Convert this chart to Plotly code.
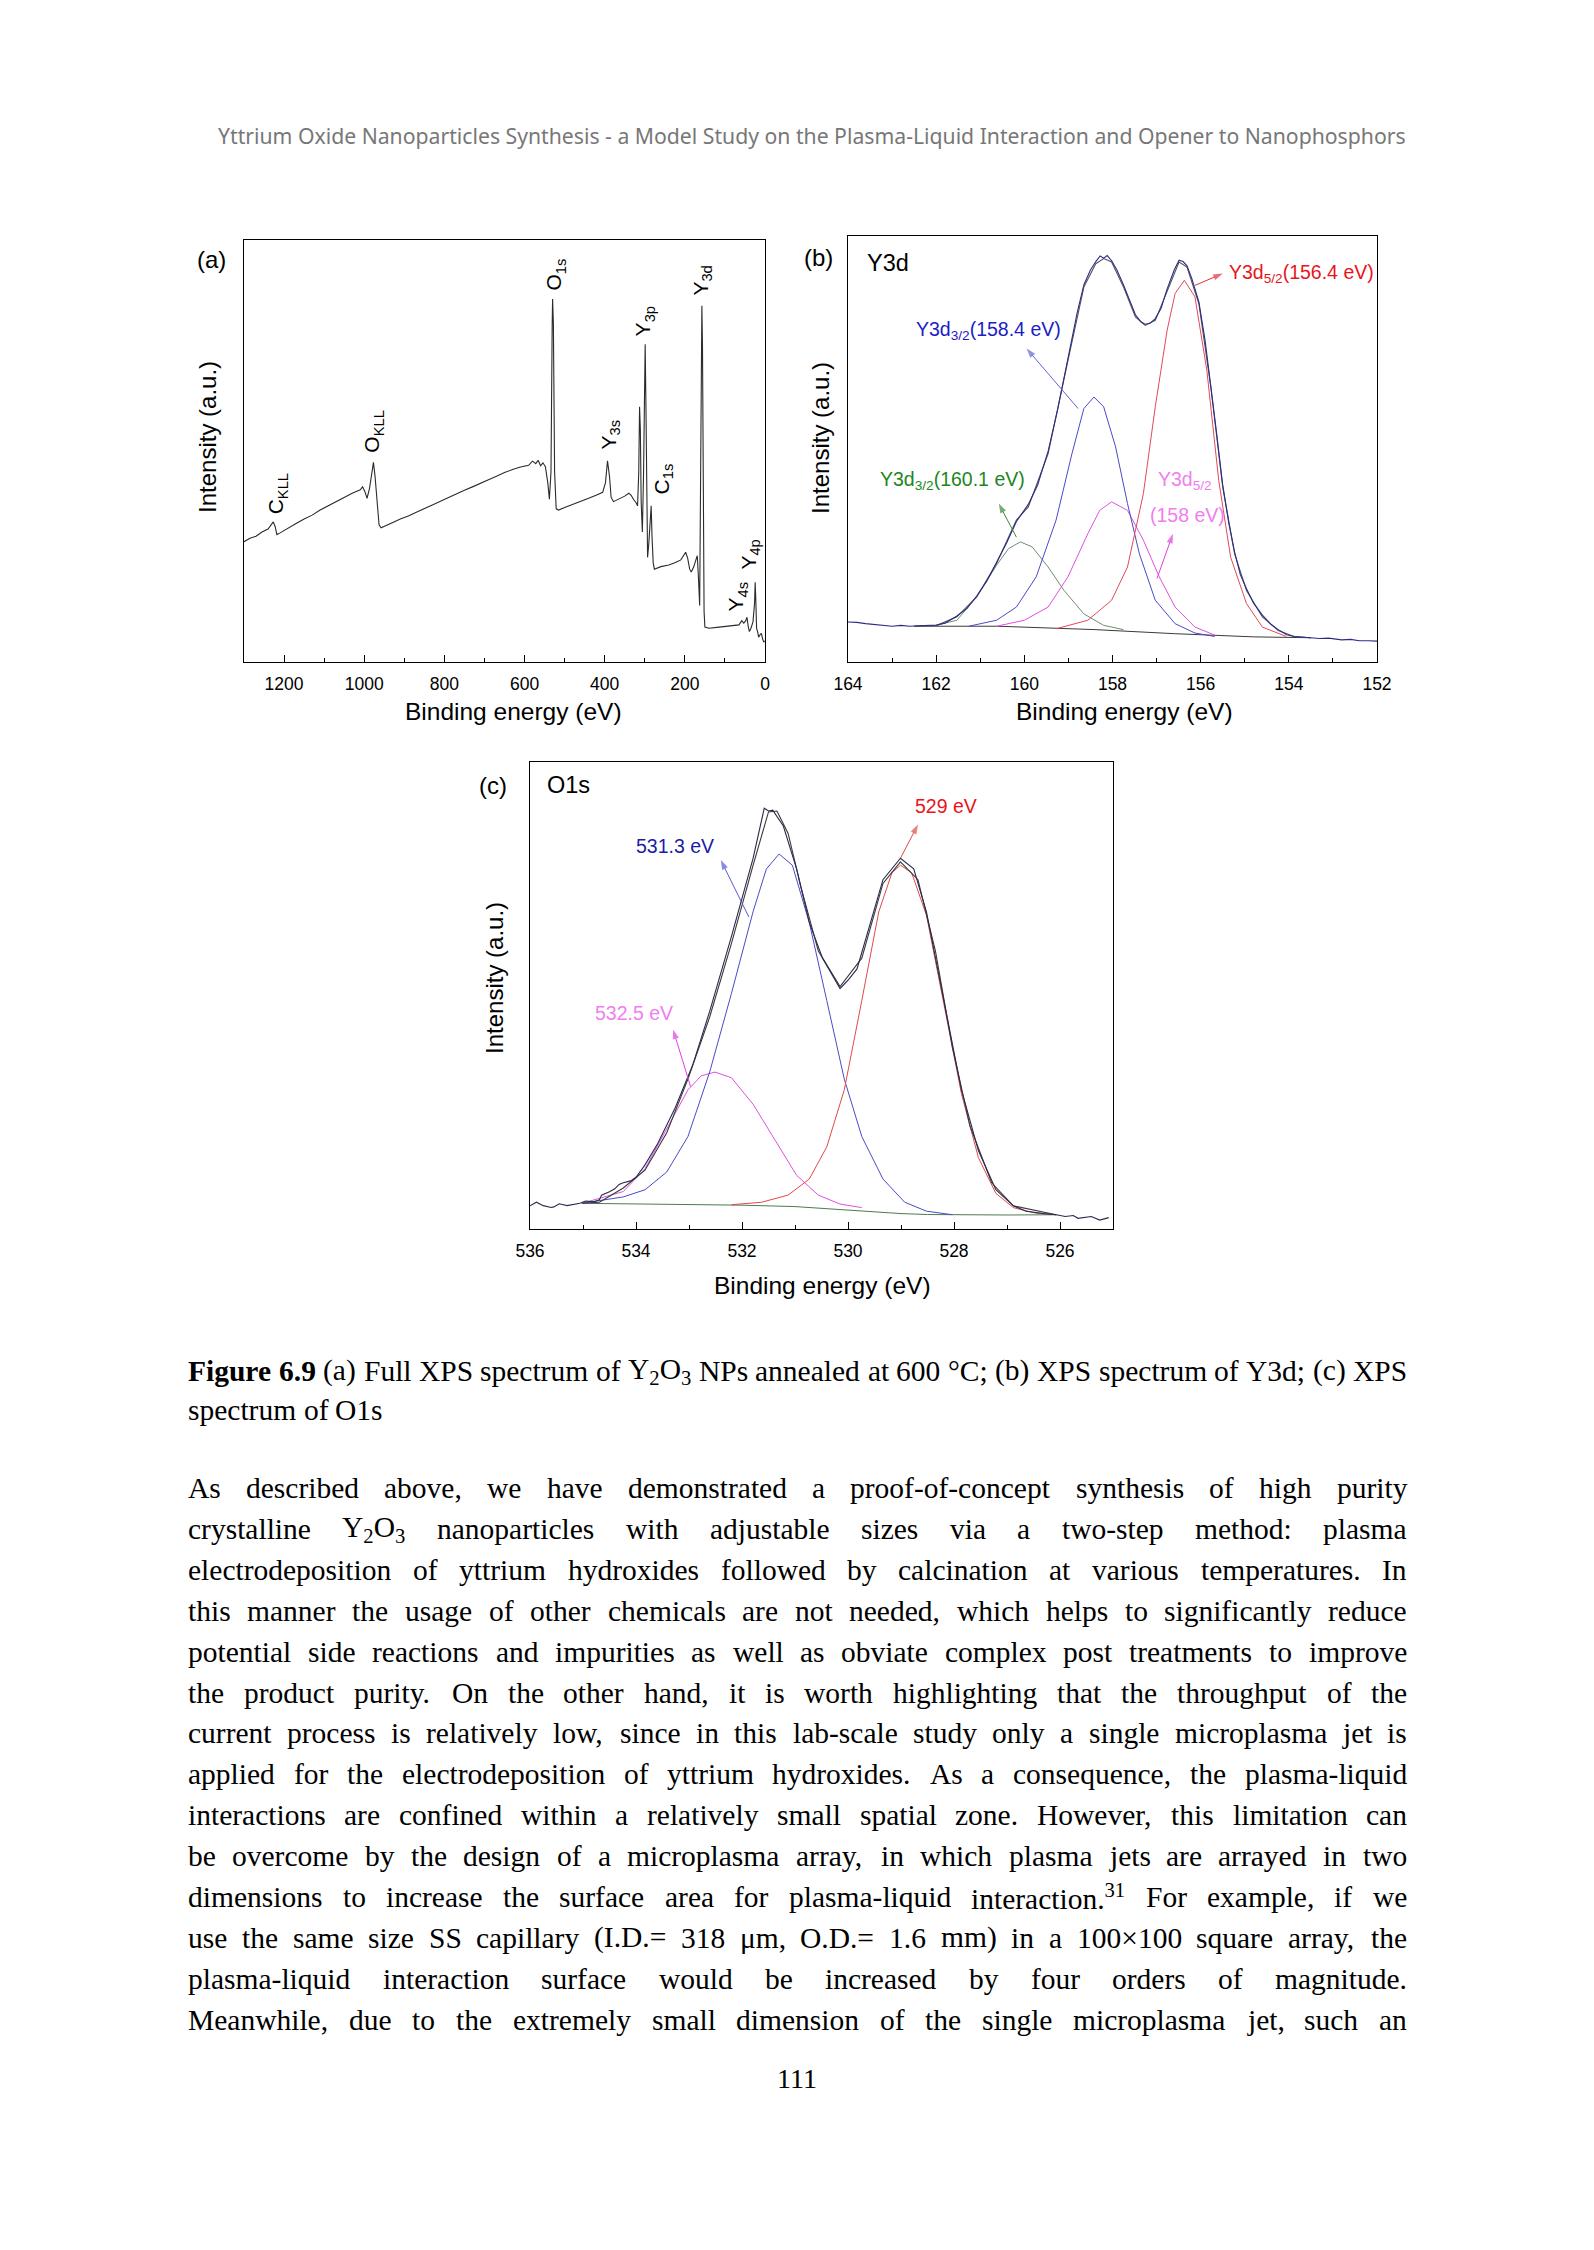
import plotly.graph_objects as go

W, H = 1594, 2250

# ---------------- data: panel (a) survey spectrum ----------------
a_be = [1300, 1285, 1270, 1255, 1240, 1232, 1227, 1222, 1218, 1210, 1190, 1170, 1150, 1130, 1110, 1090,
        1070, 1050, 1030, 1010, 1004, 998, 993, 987, 981, 977, 973, 968, 963, 958, 950, 930, 910, 890,
        870, 850, 830, 810, 790, 770, 750, 730, 710, 690, 670, 650, 630, 610, 590, 580, 572, 566, 560,
        554, 548, 542, 538, 534, 531, 530, 528, 525, 521, 515, 500, 480, 460, 440, 420, 405, 398, 393,
        388, 384, 378, 365, 350, 340, 334, 328, 322, 318, 315, 313, 311, 309, 306, 303, 300, 299, 297,
        295, 293, 290, 286, 284, 282, 279, 276, 260, 240, 225, 210, 203, 198, 193, 188, 184, 178, 172,
        169, 166, 163, 161, 159, 157.5, 156, 154, 152, 150, 140, 120, 100, 80, 65, 58, 53, 48, 45, 42,
        39, 35, 30, 26, 24.5, 23, 21, 18, 16, 12, 9, 6, 3, 1]
a_int = [28.5, 29.3, 29.8, 30.8, 31.5, 32.6, 33.2, 32.0, 30.2, 30.6, 31.6, 32.8, 33.9, 34.8, 36.0, 37.0,
         38.2, 39.0, 40.0, 40.8, 41.5, 40.3, 38.8, 41.0, 45.5, 47.3, 44.0, 37.0, 32.5, 31.8, 32.2, 33.0,
         33.9, 34.6, 35.5, 36.3, 37.2, 38.1, 39.0, 39.8, 40.7, 41.5, 42.4, 43.2, 44.0, 44.9, 45.6, 46.2,
         46.6, 47.6, 47.0, 47.8, 46.5, 47.2, 46.3, 42.5, 38.6, 45.0, 80.0, 86.0, 80.0, 45.0, 36.3, 36.0,
         36.6, 37.3, 38.1, 38.8, 39.6, 40.2, 42.5, 47.7, 44.0, 39.0, 38.0, 38.6, 39.3, 40.0, 39.5, 38.5,
         37.8, 37.0, 45.0, 60.5, 55.0, 38.0, 30.8, 45.0, 70.0, 75.3, 60.0, 35.0, 24.8, 28.0, 35.0, 37.0,
         30.0, 23.5, 22.0, 22.6, 23.0, 23.5, 24.2, 25.2, 26.0, 24.6, 22.0, 21.3, 22.5, 24.3, 25.2, 20.0,
         13.4, 40.0, 75.0, 84.4, 75.0, 40.0, 12.0, 8.3, 8.0, 8.2, 8.4, 8.6, 8.8, 9.8, 9.2, 9.8, 10.6, 8.5,
         7.2, 8.0, 9.5, 14.0, 18.9, 15.0, 8.0, 7.0, 5.9, 6.5, 6.8, 5.5, 4.7, 5.0]
a_labels = ["C<sub>KLL</sub>", "O<sub>KLL</sub>", "O<sub>1s</sub>", "Y<sub>3s</sub>", "Y<sub>3p</sub>",
            "C<sub>1s</sub>", "Y<sub>3d</sub>", "Y<sub>4s</sub>", "Y<sub>4p</sub>"]
a_label_be = [1217, 978, 523, 388, 301, 255.5, 158, 69, 38]
a_label_int = [39.8, 54.6, 91.9, 53.8, 80.8, 43.4, 90.3, 15.6, 25.4]

# ---------------- data: panel (b) Y3d ----------------
b_raw_be = [164.0, 163.8, 163.6, 163.4, 163.2, 163.0, 162.8, 162.6, 162.4, 162.2, 162.0, 161.8, 161.53,
            161.3, 161.08, 160.85, 160.63, 160.4, 160.18, 159.91, 159.7, 159.46, 159.25, 159.01, 158.8,
            158.65, 158.5, 158.38, 158.28, 158.2, 158.12, 158.02, 157.9, 157.75, 157.6, 157.48, 157.35,
            157.26, 157.15, 157.03, 156.9, 156.76, 156.6, 156.49, 156.4, 156.31, 156.2, 156.04, 155.9,
            155.77, 155.63, 155.5, 155.36, 155.23, 155.1, 154.96, 154.8, 154.6, 154.4, 154.24, 154.05,
            153.88, 153.7, 153.5, 153.3, 153.1, 152.98, 152.8, 152.6, 152.4, 152.2, 152.0]
b_raw_int = [9.4, 9.3, 9.0, 8.8, 8.5, 8.4, 8.6, 8.4, 8.5, 8.6, 8.7, 9.1, 10.8, 12.6, 15.5, 19.0, 23.4,
             28.0, 33.0, 37.0, 41.5, 49.5, 59.0, 71.5, 82.0, 88.5, 92.0, 94.0, 95.3, 94.8, 95.4, 94.2,
             92.0, 88.5, 84.5, 81.5, 79.8, 79.3, 79.5, 80.6, 83.0, 87.6, 92.0, 94.3, 94.0, 93.0, 90.0,
             84.5, 75.5, 65.0, 53.0, 41.5, 32.5, 25.8, 20.5, 17.2, 13.8, 11.0, 8.8, 7.6, 6.4, 6.0, 5.8,
             5.7, 5.5, 5.6, 5.4, 5.2, 5.3, 5.0, 5.0, 4.9]
b_env_be = [162.5, 161.98, 161.53, 161.08, 160.63, 160.18, 159.91, 159.46, 159.01, 158.65, 158.38, 158.2,
            158.02, 157.75, 157.48, 157.26, 157.03, 156.76, 156.49, 156.31, 156.04, 155.77, 155.5,
            155.23, 154.96, 154.6, 154.24, 153.88, 153.5]
b_env_int = [8.4, 8.6, 10.6, 15.3, 23.1, 33.3, 36.4, 48.9, 70.8, 88.0, 93.5, 94.7, 93.9, 88.0, 81.0,
             79.0, 80.2, 87.2, 93.9, 92.7, 84.1, 64.6, 41.1, 25.4, 16.8, 10.6, 7.4, 6.0, 5.7]
b_bg_be = [162.5, 160.6, 158.4, 156.6, 154.8, 153.5]
b_bg_int = [8.4, 8.4, 7.6, 6.65, 5.9, 5.7]
b_green_be = [161.98, 161.53, 161.08, 160.63, 160.36, 160.09, 159.82, 159.46, 159.10, 158.65, 158.20, 157.75]
b_green_int = [8.7, 9.8, 15.3, 22.7, 26.6, 28.2, 27.0, 22.3, 16.8, 11.3, 8.6, 7.6]
b_blue_be = [161.26, 160.63, 160.18, 159.73, 159.28, 158.92, 158.65, 158.42, 158.20, 157.93, 157.66,
             157.39, 157.03, 156.58, 156.13, 155.68]
b_blue_int = [8.4, 9.8, 12.9, 20.0, 33.3, 48.9, 59.5, 62.2, 59.9, 50.5, 37.2, 25.4, 14.5, 9.0, 6.8, 6.0]
b_mag_be = [160.63, 160.00, 159.46, 159.01, 158.56, 158.29, 158.02, 157.66, 157.30, 156.94, 156.58,
            156.13, 155.68]
b_mag_int = [8.4, 9.8, 12.9, 20.0, 30.1, 35.6, 37.6, 35.6, 28.6, 20.0, 12.9, 8.2, 6.3]
b_red_be = [159.28, 158.56, 158.02, 157.66, 157.30, 157.03, 156.76, 156.58, 156.37, 156.13, 155.86,
            155.59, 155.32, 154.96, 154.60, 154.06]
b_red_int = [7.8, 9.8, 14.5, 22.3, 39.5, 59.9, 77.9, 86.5, 89.6, 85.7, 68.5, 42.6, 24.6, 13.7, 8.2, 6.0]

# ---------------- data: panel (c) O1s ----------------
c_raw_be = [536.0, 535.88, 535.75, 535.6, 535.55, 535.45, 535.3, 535.15, 535.06, 534.95, 534.8, 534.69,
            534.65, 534.5, 534.4, 534.32, 534.24, 534.1, 534.0, 533.83, 533.59, 533.26, 532.93, 532.61,
            532.2, 531.79, 531.58, 531.5, 531.42, 531.22, 530.97, 530.73, 530.48, 530.15, 529.99, 529.83,
            529.58, 529.34, 529.01, 528.76, 528.52, 528.19, 527.86, 527.54, 527.21, 526.88, 526.64,
            526.3, 526.07, 525.9, 525.75, 525.66, 525.5, 525.41, 525.25, 525.08]
c_raw_int = [4.96, 5.73, 5.0, 4.6, 4.73, 5.4, 5.0, 5.3, 5.5, 6.0, 5.8, 6.26, 7.25, 8.0, 8.6, 9.54, 9.92,
             10.3, 11.07, 13.74, 18.3, 25.95, 35.1, 46.6, 62.6, 79.4, 90.1, 89.5, 89.7, 86.3, 77.1, 65.6,
             58.0, 51.5, 53.4, 55.7, 65.6, 74.8, 79.4, 77.1, 67.9, 48.9, 29.8, 16.8, 8.4, 4.96, 3.8, 3.3,
             3.05, 2.67, 2.9, 2.29, 2.6, 2.67, 1.9, 2.44]
c_env_be = [535.02, 534.69, 534.24, 533.83, 533.42, 533.02, 532.61, 532.2, 531.79, 531.5, 531.34, 531.13,
            530.89, 530.56, 530.15, 529.74, 529.34, 529.01, 528.68, 528.35, 528.03, 527.7, 527.29,
            526.88, 526.07]
c_env_int = [5.5, 5.73, 8.78, 12.6, 20.6, 32.1, 45.4, 61.1, 77.9, 89.3, 89.5, 84.7, 73.3, 59.5, 51.9,
             58.0, 74.0, 78.6, 74.8, 59.5, 38.9, 22.1, 9.9, 4.96, 3.05]
c_bg_be = [535.02, 534.0, 533.0, 532.0, 531.0, 530.5, 530.0, 529.5, 529.0, 528.5, 528.0, 527.0, 526.07]
c_bg_int = [5.5, 5.4, 5.3, 5.1, 4.8, 4.4, 4.0, 3.6, 3.3, 3.1, 3.05, 3.0, 3.05]
c_blue_be = [535.02, 534.24, 533.83, 533.42, 533.02, 532.61, 532.2, 531.79, 531.54, 531.3, 531.05,
             530.73, 530.4, 530.07, 529.74, 529.34, 528.93, 528.52, 528.03]
c_blue_int = [5.5, 6.87, 8.4, 12.2, 19.8, 33.6, 50.4, 68.0, 77.1, 80.3, 77.9, 65.6, 48.9, 32.1, 19.8,
              10.7, 5.73, 3.82, 3.05]
c_mag_be = [535.02, 534.24, 533.83, 533.42, 533.02, 532.77, 532.51, 532.2, 531.79, 531.38, 530.97,
            530.56, 530.15, 529.74]
c_mag_int = [5.5, 8.02, 12.9, 21.4, 29.8, 32.8, 33.6, 32.4, 26.7, 19.1, 11.5, 7.25, 5.34, 4.58]
c_red_be = [532.2, 531.63, 531.13, 530.73, 530.4, 530.07, 529.74, 529.42, 529.17, 529.01, 528.8, 528.52,
            528.19, 527.86, 527.54, 527.21, 526.88, 526.47, 526.07]
c_red_int = [5.2, 5.73, 7.25, 10.7, 17.6, 29.8, 48.9, 67.9, 76.3, 77.9, 76.3, 67.2, 48.1, 29.0, 15.3,
             7.63, 4.58, 3.44, 3.05]

# ---------------- text ----------------
header_text = ("Yttrium Oxide Nanoparticles Synthesis - a Model Study on the Plasma-Liquid "
               "Interaction and Opener to Nanophosphors")
caption_lines = [
    "<b>Figure</b> <b>6.9</b> (a) Full XPS spectrum of Y<sub>2</sub>O<sub>3</sub> NPs annealed at 600 °C; (b) XPS spectrum of Y3d; (c) XPS",
    "spectrum of O1s",
]
body_lines = [
    "As described above, we have demonstrated a proof-of-concept synthesis of high purity",
    "crystalline Y<sub>2</sub>O<sub>3</sub> nanoparticles with adjustable sizes via a two-step method: plasma",
    "electrodeposition of yttrium hydroxides followed by calcination at various temperatures. In",
    "this manner the usage of other chemicals are not needed, which helps to significantly reduce",
    "potential side reactions and impurities as well as obviate complex post treatments to improve",
    "the product purity. On the other hand, it is worth highlighting that the throughput of the",
    "current process is relatively low, since in this lab-scale study only a single microplasma jet is",
    "applied for the electrodeposition of yttrium hydroxides. As a consequence, the plasma-liquid",
    "interactions are confined within a relatively small spatial zone. However, this limitation can",
    "be overcome by the design of a microplasma array, in which plasma jets are arrayed in two",
    "dimensions to increase the surface area for plasma-liquid interaction.<sup>31</sup> For example, if we",
    "use the same size SS capillary (I.D.= 318 μm, O.D.= 1.6 mm) in a 100×100 square array, the",
    "plasma-liquid interaction surface would be increased by four orders of magnitude.",
    "Meanwhile, due to the extremely small dimension of the single microplasma jet, such an",
]
page_number = "111"

# ---------------- font metrics (Times / Liberation Serif, 1/1000 em) ----------------
TIMES = {' ': 250, '(': 333, ')': 333, ',': 250, '-': 333, '.': 250, '/': 278, ':': 278, ';': 278,
         '=': 564, '×': 564, 'μ': 500, '°': 400,
         'A': 722, 'B': 667, 'C': 667, 'D': 722, 'E': 611, 'F': 556, 'G': 722, 'H': 722, 'I': 333,
         'J': 389, 'K': 722, 'L': 611, 'M': 889, 'N': 722, 'O': 722, 'P': 556, 'Q': 722, 'R': 667,
         'S': 556, 'T': 611, 'U': 722, 'V': 722, 'W': 944, 'X': 722, 'Y': 722, 'Z': 611,
         'a': 444, 'b': 500, 'c': 444, 'd': 500, 'e': 444, 'f': 333, 'g': 500, 'h': 500, 'i': 278,
         'j': 278, 'k': 500, 'l': 278, 'm': 778, 'n': 500, 'o': 500, 'p': 500, 'q': 500, 'r': 333,
         's': 389, 't': 278, 'u': 500, 'v': 500, 'w': 722, 'x': 500, 'y': 500, 'z': 444}
TIMES_BOLD = {'F': 611, 'i': 278, 'g': 500, 'u': 556, 'r': 444, 'e': 444, '.': 250}


def text_width(s, fs):
    total, scale, bold, i = 0.0, 1.0, False, 0
    while i < len(s):
        if s.startswith('<sub>', i) or s.startswith('<sup>', i):
            scale = 0.7; i += 5; continue
        if s.startswith('</sub>', i) or s.startswith('</sup>', i):
            scale = 1.0; i += 6; continue
        if s.startswith('<b>', i):
            bold = True; i += 3; continue
        if s.startswith('</b>', i):
            bold = False; i += 4; continue
        ch = s[i]
        w = TIMES_BOLD.get(ch) if bold and ch in TIMES_BOLD else TIMES.get(ch, 500)
        total += w * scale
        i += 1
    return total * fs / 1000.0


def px(x):
    return x / W


def py(y):
    return 1 - y / H


fig = go.Figure()

AX = dict(showline=True, linecolor='black', linewidth=1.4, mirror=True, showgrid=False, zeroline=False,
          ticks='inside', ticklen=7, tickwidth=1.2, tickcolor='black', automargin=False,
          tickfont=dict(family='Liberation Sans, Arial', size=17.5, color='black'))
AY = dict(showline=True, linecolor='black', linewidth=1.4, mirror=True, showgrid=False, zeroline=False,
          ticks='', showticklabels=False, range=[0, 100], automargin=False)

fig.update_layout(
    template='none',
    width=W, height=H, margin=dict(l=0, r=0, t=0, b=0, pad=0, autoexpand=False), showlegend=False,
    paper_bgcolor='white', plot_bgcolor='white',
    xaxis=dict(AX, domain=[px(244), px(765)], range=[1300, 0], dtick=200, tick0=0,
               minor=dict(ticks='inside', ticklen=4, dtick=100, tick0=0, tickcolor='black'),
               anchor='y', ticklabelstandoff=6),
    yaxis=dict(AY, domain=[py(662), py(240)], anchor='x'),
    xaxis2=dict(AX, domain=[px(848), px(1377)], range=[164, 152], dtick=2, tick0=0,
                minor=dict(ticks='inside', ticklen=4, dtick=1, tick0=0, tickcolor='black'),
                anchor='y2', ticklabelstandoff=6),
    yaxis2=dict(AY, domain=[py(662), py(236)], anchor='x2'),
    xaxis3=dict(AX, domain=[px(530), px(1113)], range=[536, 525], dtick=2, tick0=0,
                minor=dict(ticks='inside', ticklen=4, dtick=1, tick0=0, tickcolor='black'),
                anchor='y3', ticklabelstandoff=6),
    yaxis3=dict(AY, domain=[py(1229), py(762)], anchor='x3'),
)


def line(x, y, color, width, xa, ya):
    fig.add_trace(go.Scatter(x=x, y=y, mode='lines', line=dict(color=color, width=width),
                             xaxis=xa, yaxis=ya, hoverinfo='skip'))


# panel a
line(a_be, a_int, '#2b2b2b', 1.1, 'x', 'y')
# panel b
line(b_bg_be, b_bg_int, '#3a3a3a', 1.0, 'x2', 'y2')
line(b_green_be, b_green_int, '#6f8f6f', 1.0, 'x2', 'y2')
line(b_mag_be, b_mag_int, '#e050e0', 1.0, 'x2', 'y2')
line(b_blue_be, b_blue_int, '#4a4ac8', 1.0, 'x2', 'y2')
line(b_red_be, b_red_int, '#e04a5a', 1.0, 'x2', 'y2')
line(b_env_be, b_env_int, '#555555', 1.1, 'x2', 'y2')
line(b_raw_be, b_raw_int, '#2c2c86', 1.1, 'x2', 'y2')
# panel c
line(c_bg_be, c_bg_int, '#4f7a4f', 1.0, 'x3', 'y3')
line(c_mag_be, c_mag_int, '#e050e0', 1.0, 'x3', 'y3')
line(c_blue_be, c_blue_int, '#4a4ac8', 1.0, 'x3', 'y3')
line(c_red_be, c_red_int, '#e04a4a', 1.0, 'x3', 'y3')
line(c_env_be, c_env_int, '#3a3a3a', 1.1, 'x3', 'y3')
line(c_raw_be, c_raw_int, '#2a2a50', 1.1, 'x3', 'y3')

ann = []
SANS = 'Liberation Sans, Arial'
SERIF = 'Liberation Serif, Times New Roman'


def paper_text(x, y, text, size, family=SANS, color='black', xanchor='center', angle=0):
    ann.append(dict(xref='paper', yref='paper', x=px(x), y=py(y), text=text, showarrow=False,
                    xanchor=xanchor, yanchor='middle', textangle=angle, borderpad=0, borderwidth=0,
                    font=dict(family=family, size=size, color=color)))


# header
paper_text(812, 135, header_text, 21.2, family='Noto Sans', color='#777777')

# panel labels / axis titles
paper_text(212, 260, '(a)', 24)
paper_text(818, 257, '(b)', 24)
paper_text(493, 785, '(c)', 24)
paper_text(867, 263, 'Y3d', 23.5, xanchor='left')
paper_text(547, 785, 'O1s', 23.5, xanchor='left')
for xc, yc in [(513, 711), (1124, 711), (822, 1285)]:
    paper_text(xc, yc, 'Binding energy (eV)', 24.5)
for xc, yc in [(208, 437), (820, 438), (494, 978)]:
    paper_text(xc, yc, 'Intensity (a.u.)', 24, angle=-90)

# panel a peak labels
for t, xv, yv in zip(a_labels, a_label_be, a_label_int):
    ann.append(dict(xref='x', yref='y', x=xv, y=yv, text=t, showarrow=False, textangle=-90,
                    font=dict(family=SANS, size=21, color='black')))


def data_text(xa, ya, x, y, text, color, size=19.5, xanchor='center'):
    ann.append(dict(xref=xa, yref=ya, x=x, y=y, text=text, showarrow=False, xanchor=xanchor,
                    font=dict(family=SANS, size=size, color=color)))


def arrow(xa, ya, x0, y0, x1, y1, color):
    fig.add_trace(go.Scatter(x=[x0, x1], y=[y0, y1], mode='lines+markers', xaxis=xa, yaxis=ya,
                             line=dict(color=color, width=1.0), hoverinfo='skip',
                             marker=dict(symbol='arrow', size=[0, 10], angleref='previous',
                                         color=color, line=dict(width=0))))


# panel b annotations
data_text('x2', 'y2', 155.41, 91.2, 'Y3d<sub>5/2</sub>(156.4 eV)', '#e8141c', xanchor='left')
arrow('x2', 'y2', 156.13, 88.4, 155.5, 91.2, '#e0303a')
data_text('x2', 'y2', 160.81, 77.9, 'Y3d<sub>3/2</sub>(158.4 eV)', '#1c1cc8')
arrow('x2', 'y2', 158.78, 59.5, 159.95, 73.6, '#6464d2')
data_text('x2', 'y2', 161.62, 42.6, 'Y3d<sub>3/2</sub>(160.1 eV)', '#1d861d')
arrow('x2', 'y2', 160.18, 29.3, 160.58, 37.2, '#3a8a3a')
data_text('x2', 'y2', 156.36, 42.6, 'Y3d<sub>5/2</sub>', '#f07ef0')
data_text('x2', 'y2', 156.31, 34.4, '(158 eV)', '#f07ef0')
arrow('x2', 'y2', 156.99, 19.6, 156.63, 30.1, '#e040e0')

# panel c annotations
data_text('x3', 'y3', 528.15, 90.5, '529 eV', '#e8141c')
arrow('x3', 'y3', 529.01, 79.4, 528.68, 86.6, '#e04a4a')
data_text('x3', 'y3', 533.26, 82.1, '531.3 eV', '#1c1ca8')
arrow('x3', 'y3', 531.87, 66.8, 532.40, 79.0, '#5a5ad0')
data_text('x3', 'y3', 534.04, 46.2, '532.5 eV', '#f07ef0')
arrow('x3', 'y3', 532.97, 30.5, 533.30, 42.7, '#e040e0')

# caption and body text (justified word by word)
FS = 29.5
LEFT, RIGHT = 188, 1407


def justified(line_text, y, justify=True):
    words = line_text.split(' ')
    widths = [text_width(w, FS) for w in words]
    if justify and len(words) > 1:
        gap = (RIGHT - LEFT - sum(widths)) / (len(words) - 1)
    else:
        gap = TIMES[' '] * FS / 1000.0
    xcur = LEFT
    for w, wd in zip(words, widths):
        ann.append(dict(xref='paper', yref='paper', x=px(xcur), y=py(y), text=w, showarrow=False,
                        xanchor='left', yanchor='middle', borderpad=0, borderwidth=0,
                        font=dict(family=SERIF, size=FS, color='black')))
        xcur += wd + gap


justified(caption_lines[0], 1371, True)
justified(caption_lines[1], 1410, False)
for i, ln in enumerate(body_lines):
    justified(ln, 1488 + 40.9 * i, True)

paper_text(797, 2078, page_number, 28, family=SERIF)

fig.update_layout(annotations=ann)
fig.write_html('out.html', config={'displayModeBar': False},
               post_script="document.body.style.margin='0px';document.body.style.padding='0px';"
                           "document.body.style.overflow='hidden';")
